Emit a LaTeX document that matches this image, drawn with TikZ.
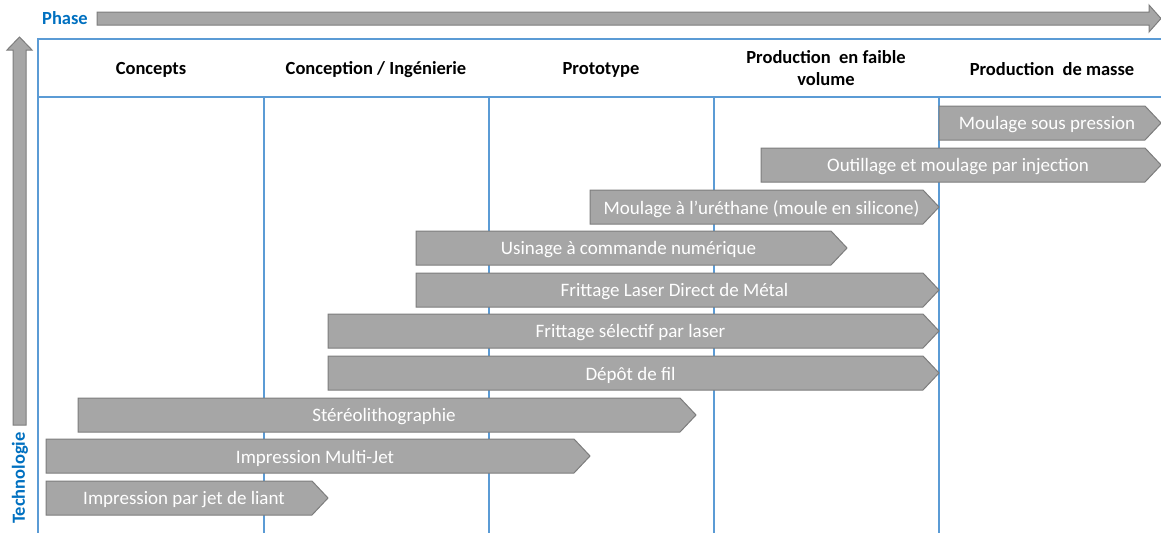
\documentclass[tikz,border=0pt]{standalone}
\usepackage{fontspec}
\setmainfont{Carlito}
\definecolor{gridblue}{RGB}{91,155,213}
\definecolor{barfill}{RGB}{166,166,166}
\definecolor{barline}{RGB}{125,125,125}
\definecolor{labelblue}{RGB}{0,112,192}
\tikzset{
  gridline/.style={draw=gridblue, line width=1.3pt},
  barshape/.style={fill=barfill, draw=barline, line width=1pt},
  bartext/.style={text=white, font=\fontsize{19}{21}\selectfont, inner sep=0pt, yshift=-2pt},
  headtext/.style={font=\bfseries\fontsize{18.5}{22}\selectfont, align=center, inner sep=0pt},
  axistext/.style={text=labelblue, font=\bfseries\fontsize{18.5}{20}\selectfont, inner sep=0pt},
}
\newcommand\techbar[5]{%
  \draw[barshape] (#2,#4) -- ({#3-16},#4) -- (#3,{#4+17}) -- ({#3-16},{#4+34}) -- (#2,{#4+34}) -- cycle;
  \node[bartext] (#1) at ({(#2+#3)/2-3},{#4+17}) {#5};}
\begin{document}
\begin{tikzpicture}[x=1pt,y=-1pt]
\useasboundingbox (0,0) rectangle (1161,533);
% axes arrows
\draw[barshape] (97,12) -- (1149,12) -- (1149,5) -- (1161,18.5) -- (1149,32) -- (1149,25) -- (97,25) -- cycle;
\draw[barshape] (13,425) -- (13,50) -- (7,50) -- (19.5,37) -- (32,50) -- (26,50) -- (26,425) -- cycle;
\node[axistext] (phase) at (65,18.5) {Phase};
\node[axistext, rotate=90] (techno) at (20,478) {Technologie};
% grid
\draw[gridline] (1161,39) -- (38,39) -- (38,533);
\draw[gridline] (38,97) -- (1161,97);
\foreach \gx in {264,489,714,939} \draw[gridline] (\gx,97) -- (\gx,533);
% headers
\node[headtext] (h1) at (151,69.5) {Concepts};
\node[headtext] (h2) at (376,69.5) {Conception / Ingénierie};
\node[headtext] (h3) at (601,69.5) {Prototype};
\node[headtext] (h4) at (826,68) {Production\ \ en faible\\volume};
\node[headtext] (h5) at (1052,69.5) {Production\ \ de masse};
% bars
\techbar{b1}{939}{1161}{106}{Moulage sous pression}
\techbar{b2}{761}{1161}{148}{Outillage et moulage par injection}
\techbar{b3}{590}{939}{190}{Moulage à l’uréthane (moule en silicone)}
\techbar{b4}{416}{847}{231}{Usinage à commande numérique}
\techbar{b5}{416}{939}{273}{Frittage Laser Direct de Métal}
\techbar{b6}{328}{939}{314}{Frittage sélectif par laser}
\techbar{b7}{328}{939}{356}{Dépôt de fil}
\techbar{b8}{78}{696}{398}{Stéréolithographie}
\techbar{b9}{46}{590}{439}{Impression Multi-Jet}
\techbar{b10}{46}{328}{481}{Impression par jet de liant}
\end{tikzpicture}
\end{document}
